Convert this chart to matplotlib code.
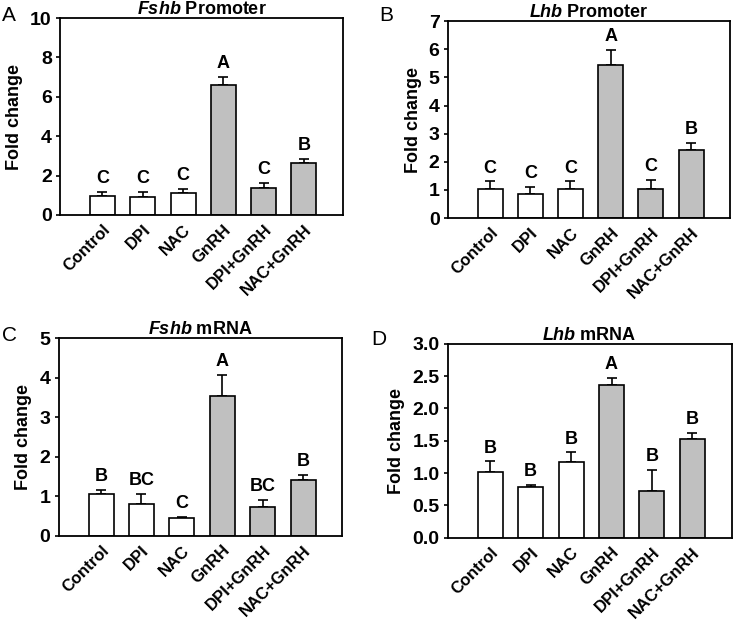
import matplotlib
matplotlib.use("Agg")
import matplotlib.pyplot as plt
import numpy as np

plt.rcParams['font.family'] = ['Liberation Sans', 'DejaVu Sans']
plt.rcParams['mathtext.fontset'] = 'custom'
plt.rcParams['mathtext.bfit'] = 'Liberation Sans:italic:bold'
plt.rcParams['mathtext.it'] = 'Liberation Sans:italic'
plt.rcParams['mathtext.bf'] = 'Liberation Sans:bold'
plt.rcParams['mathtext.rm'] = 'Liberation Sans'

categories = ["Control", "DPI", "NAC", "GnRH", "DPI+GnRH", "NAC+GnRH"]
colors_bars = ["white", "white", "white", "#c0c0c0", "#c0c0c0", "#c0c0c0"]

fshb_prom = [0.98, 0.93, 1.10, 6.58, 1.39, 2.63]
fshb_prom_err = [0.21, 0.22, 0.20, 0.42, 0.22, 0.22]
fshb_prom_sig = ["C", "C", "C", "A", "C", "B"]

lhb_prom = [1.03, 0.85, 1.04, 5.43, 1.04, 2.42]
lhb_prom_err = [0.27, 0.27, 0.26, 0.56, 0.32, 0.26]
lhb_prom_sig = ["C", "C", "C", "A", "C", "B"]

fshb_mrna = [1.06, 0.80, 0.44, 3.54, 0.73, 1.42]
fshb_mrna_err = [0.10, 0.26, 0.03, 0.53, 0.17, 0.12]
fshb_mrna_sig = ["B", "BC", "C", "A", "BC", "B"]

lhb_mrna = [1.02, 0.78, 1.17, 2.36, 0.72, 1.53]
lhb_mrna_err = [0.16, 0.04, 0.15, 0.11, 0.33, 0.09]
lhb_mrna_sig = ["B", "B", "B", "A", "B", "B"]

panels = [
    ("A", r"$\mathbfit{Fshb}$ Promoter", fshb_prom, fshb_prom_err, fshb_prom_sig, 10, [0, 2, 4, 6, 8, 10], "%d",
     [0.082, 0.655, 0.386, 0.316], (0.003, 0.975)),
    ("B", r"$\mathbfit{Lhb}$ Promoter", lhb_prom, lhb_prom_err, lhb_prom_sig, 7, [0, 1, 2, 3, 4, 5, 6, 7], "%d",
     [0.611, 0.650, 0.385, 0.316], (0.518, 0.975)),
    ("C", r"$\mathbfit{Fshb}$ mRNA", fshb_mrna, fshb_mrna_err, fshb_mrna_sig, 5, [0, 1, 2, 3, 4, 5], "%d",
     [0.080, 0.140, 0.387, 0.317], (0.003, 0.462)),
    ("D", r"$\mathbfit{Lhb}$ mRNA", lhb_mrna, lhb_mrna_err, lhb_mrna_sig, 3, [0, 0.5, 1.0, 1.5, 2.0, 2.5, 3.0], "%.1f",
     [0.611, 0.137, 0.387, 0.311], (0.507, 0.455)),
]

fig = plt.figure(figsize=(7.33, 6.23), dpi=100)
x = np.arange(len(categories))
for letter, title, vals, errs, sig, ymax, yticks, fmt, rect, lpos in panels:
    ax = fig.add_axes(rect)
    ax.bar(x, vals, width=0.62, color=colors_bars, edgecolor="black", linewidth=1.2, zorder=2)
    ax.errorbar(x, vals, yerr=[np.zeros(len(vals)), errs], fmt="none", ecolor="black",
                elinewidth=1.2, capsize=3.5, capthick=1.2, zorder=1)
    for xi, v, e, s in zip(x, vals, errs, sig):
        ax.text(xi, v + e + ymax * 0.025, s, ha="center", va="bottom", fontsize=13, fontweight="bold")
    ax.set_xlim(-1.05, 5.97)
    ax.set_ylim(0, ymax)
    ax.set_yticks(yticks)
    ax.set_yticklabels([fmt % t for t in yticks], fontsize=14, fontweight="bold")
    ax.set_xticks(x)
    ax.set_xticklabels(categories, rotation=45, ha="right", rotation_mode="anchor",
                       fontsize=12, fontweight="bold")
    ax.tick_params(axis="x", length=0, pad=5)
    ax.tick_params(axis="y", direction="out", length=3, width=1.2, pad=3)
    for sp in ax.spines.values():
        sp.set_linewidth(1.3)
    ax.set_ylabel("Fold change", fontsize=13, fontweight="bold", labelpad=5)
    ax.set_title(title, fontsize=13, fontweight="bold", pad=2)
    fig.text(lpos[0], lpos[1], letter, fontsize=15, ha="left", va="center")

fig.savefig("out.png", dpi=100)
